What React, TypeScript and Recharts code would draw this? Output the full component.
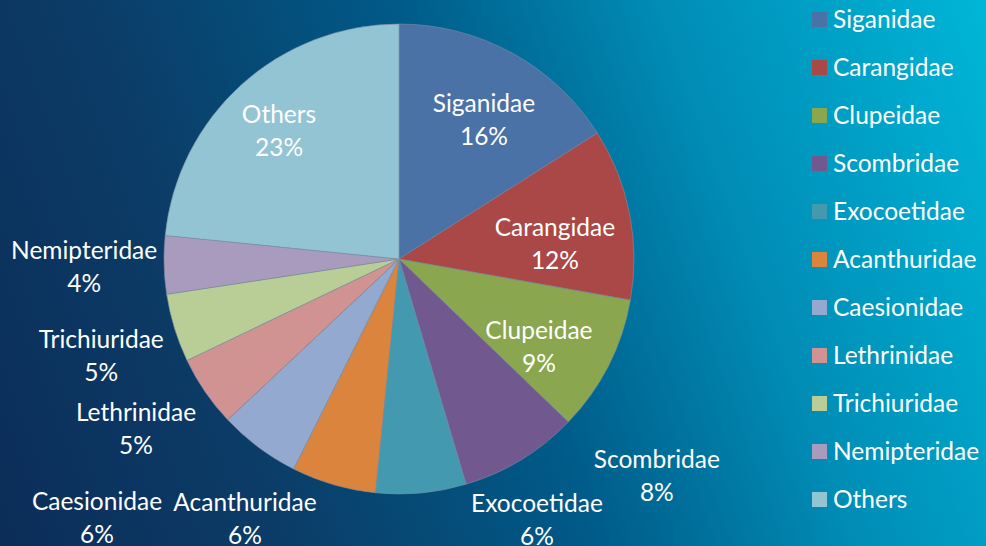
import React from "react";
import { PieChart, Pie, Cell, Legend } from "recharts";

const families = [
  "Siganidae",
  "Carangidae",
  "Clupeidae",
  "Scombridae",
  "Exocoetidae",
  "Acanthuridae",
  "Caesionidae",
  "Lethrinidae",
  "Trichiuridae",
  "Nemipteridae",
  "Others",
];
const shares = [16.0, 11.8, 9.4, 8.2, 6.2, 5.8, 5.6, 4.9, 4.7, 4.0, 23.4];

const sliceColors = [
  "#4a72a6",
  "#a94846",
  "#8aa64f",
  "#71598f",
  "#4399af",
  "#db843e",
  "#93a9cf",
  "#d19392",
  "#b9cd97",
  "#a99bbd",
  "#93c4d4",
];

// label placement: [polar angle in degrees, radius factor]
const labelPolar: [number, number][] = [
  [58.9, 0.7],
  [5.9, 0.667],
  [-31.7, 0.7],
  [-39.9, 1.43],
  [-62.0, 1.25],
  [-120.8, 1.28],
  [-139.5, 1.69],
  [-147.3, 1.33],
  [-162.3, 1.33],
  [-178.9, 1.34],
  [132.9, 0.75],
];

const data = families.map((name, i) => ({ name, value: shares[i] }));
const total = shares.reduce((a, b) => a + b, 0);

const FONT = "Lato, 'Noto Sans', sans-serif";
const FS = 24.5;

const renderLabel = (props: any) => {
  const { cx, cy, outerRadius, index } = props;
  const [ang, rf] = labelPolar[index];
  const rad = (ang * Math.PI) / 180;
  const x = cx + Math.cos(rad) * outerRadius * rf;
  const y = cy - Math.sin(rad) * outerRadius * rf;
  const pct = Math.round((shares[index] / total) * 100) + "%";
  return (
    <text
      x={x}
      y={y}
      textAnchor="middle"
      fill="#ffffff"
      fontFamily={FONT}
      fontSize={FS}
    >
      <tspan x={x} y={y - 16} dominantBaseline="central">
        {families[index]}
      </tspan>
      <tspan x={x} y={y + 17} dominantBaseline="central">
        {pct}
      </tspan>
    </text>
  );
};

const renderLegend = () => (
  <div style={{ fontFamily: FONT, fontSize: FS, color: "#ffffff" }}>
    {families.map((f, i) => (
      <div
        key={f}
        style={{ height: 48, display: "flex", alignItems: "center" }}
      >
        <span
          style={{
            width: 15,
            height: 15,
            background: sliceColors[i],
            display: "inline-block",
            marginRight: 6,
            flexShrink: 0,
          }}
        />
        <span style={{ lineHeight: "48px", whiteSpace: "nowrap" }}>{f}</span>
      </div>
    ))}
  </div>
);

export default function App() {
  return (
    <div
      style={{
        position: "absolute",
        left: 0,
        top: 0,
        width: 986,
        height: 546,
        background:
          "linear-gradient(70deg, #0b2d58 0%, #0b3d68 25%, #005a88 50%, #008cb5 72%, #00b6d8 100%)",
        overflow: "hidden",
      }}
    >
      <PieChart width={986} height={546} margin={{ top: 0, right: 0, bottom: 0, left: 0 }}>
        <Pie
          data={data}
          dataKey="value"
          nameKey="name"
          cx={399}
          cy={259}
          outerRadius={235}
          startAngle={90}
          endAngle={-270}
          stroke="#7d8fa3"
          strokeWidth={0.6}
          label={renderLabel}
          labelLine={false}
          isAnimationActive={false}
        >
          {data.map((d, i) => (
            <Cell key={d.name} fill={sliceColors[i]} />
          ))}
        </Pie>
        <Legend
          layout="vertical"
          align="right"
          verticalAlign="top"
          content={renderLegend}
          wrapperStyle={{ left: 812, top: -5, width: 174 }}
        />
      </PieChart>
    </div>
  );
}
